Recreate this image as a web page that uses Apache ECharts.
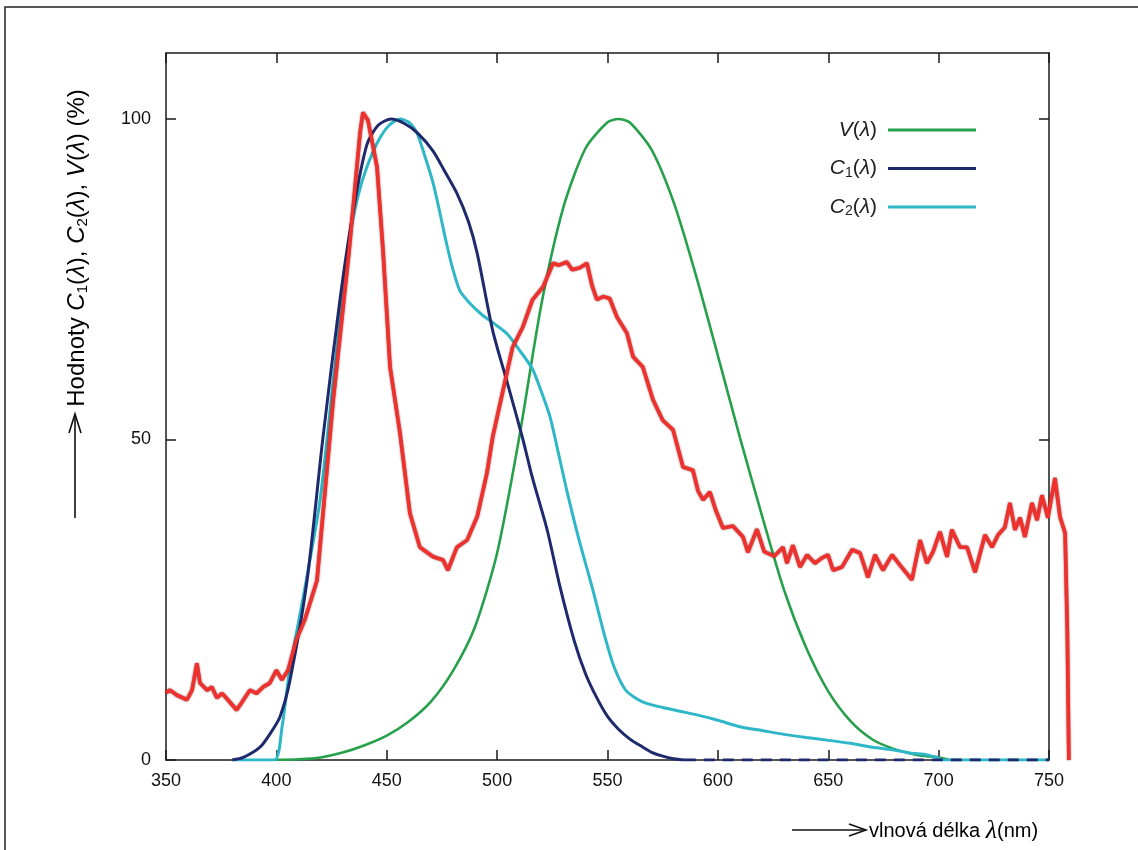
<!DOCTYPE html>
<html><head><meta charset="utf-8">
<script src="https://cdn.jsdelivr.net/npm/echarts@6/dist/echarts.min.js"></script>
<style>html,body{margin:0;padding:0;background:#fff}#c{width:1138px;height:850px}</style>
</head><body><div id="c"></div>
<script>
// ---- data ----
const xTickValues = [350, 400, 450, 500, 550, 600, 650, 700, 750];
const yTickValues = [0, 50, 100];

// V(lambda) – green
const vX = [400,410,420,430,440,450,460,470,480,490,500,510,520,530,540,550,555,560,570,580,590,600,610,620,630,640,650,660,670,680,690,700,705];
const vY = [0.04,0.12,0.4,1.16,2.3,3.8,6,9.1,13.9,20.8,32.3,50.3,71,86.2,95.4,99.5,100,99.5,95.2,87,75.7,63.1,50.3,38.1,26.5,17.5,10.7,6.1,3.2,1.7,0.8,0.4,0];

// C1(lambda) – navy
const c1X = [380,385,392.6,397,401.6,406.2,413.9,421,428.8,435,441,446,452,458,464,471,476,481.8,487,491,498,504.5,511.7,516,522.6,528.5,535,540,545,550,555,560,566,570,575,580,585];
const c1Y = [0,0.4,2,4,6.7,12.5,28,50,71.8,86,96,99,100,99.3,97.8,95,92,88.4,84,79,67,59,50,44,36,27,18.5,13.5,9.8,6.8,4.8,3.3,2,1.2,0.6,0.2,0];
// C1 tail along zero (dashed in the reference)
const c1TailX = [585, 750];
const c1TailY = [0, 0];

// C2(lambda) – cyan
const c2X = [380,399,402.5,406,413,419.8,426,433,437,441,446,451,456,460,463.7,467,471,474,477,480,483,487,493,499,504.5,510,516,520,524,528,531.6,537,543,549,553,558,563,568,575,583,591,600,610,620,630,640,649.4,660,670,679,687,694.7,699,702,750];
const c2Y = [0,0,5,14,27,40.6,60,81,88,92.5,96.5,99,100,99.5,97.8,94.5,90,85.5,80.7,76.5,73.3,71.5,69.5,68,66.5,64,61,57.5,53.5,47.5,42,34.5,27,19,14.5,11,9.6,8.8,8.2,7.6,7,6.2,5.2,4.6,4,3.5,3.1,2.6,2,1.6,1.1,0.8,0.4,0,0];

// measured spectrum – red
const redX = [350,351.8,355,359.5,361.8,364,365.4,368.6,370.8,373,375.4,378,382,384.4,388,391,394,397,400,402.5,405.3,409,413,418.4,425.7,433,437.9,439.2,441.5,445.6,448.3,451.5,456,460.5,465,471,475.5,477.7,481.8,486.4,491,495.4,498,502.7,507,511.7,516,520.8,525.3,528,531.6,534,537.5,540.7,543,545.2,548,551,554.3,558.8,561.6,566,570.6,575,579.7,584.2,588.7,591,593.3,596.4,599,602.3,606.8,611.4,613.6,617.7,621,625.5,629.5,631.3,634,637.2,640.4,644,647,649.9,652.2,656.2,660.8,664.4,668,671.2,674.8,678.9,682.5,687.9,691.6,694.7,697.5,700.6,703.8,706,709.7,712.9,716.5,721,724.2,726.9,730,732.3,734.6,736.9,739.1,742.3,744.6,746.8,749.5,752.7,755,757.3,758.3,759];
const redY = [10.5,10.9,10.1,9.4,10.9,15.1,12,10.9,11.4,9.7,10.4,9.4,7.8,9,10.9,10.4,11.4,12,14,12.5,14,18.7,22,28,56,79.6,97.8,101,99.8,92.5,79.6,61.3,51,38.5,33.2,31.7,31.2,29.6,33.2,34.3,38,44.8,50.4,57.7,64.4,67.6,71.8,73.8,77.5,77.2,77.7,76.5,76.8,77.5,74,71.8,72.3,72,69.1,66.6,62.9,61.3,56.2,53,51.5,45.7,45.2,42,40.6,41.8,39,36.2,36.5,34.8,32.4,36,32.5,31.8,33.2,30.7,33.5,30.1,32,30.7,31.5,32,29.6,30.1,32.8,32.3,28.5,32,29.6,32,30.4,28.1,34.3,30.7,32.5,35.6,31.7,35.9,33.2,33.2,29.3,35.1,33.2,35.1,36.3,40.1,35.9,37.8,34.8,40.1,37.4,41.3,37.8,44,37.9,35.4,20,0];

const seriesNames = ['V(λ)', 'C1(λ)', 'C2(λ)'];

// ---- styling ----
const GREEN = '#27a04c', NAVY = '#1e2a6d', CYAN = '#2db7c7', RED = '#f0302c';
const AX = '#1a1a1a';
const pairs = (xs, ys) => xs.map((x, i) => [x, ys[i]]);

// plot box geometry
const G = {left: 166, top: 53, bottom: 90, width: 883};
const X0 = 350, X1 = 750, XR = 765;           // XR: extended range for the spectrum, which runs past 750
const pxPerNm = G.width / (X1 - X0);

const legendFmt = {
  'V(λ)': '{i|V}{n|(}{i|λ}{n|)}',
  'C1(λ)': '{i|C}{s|1}{n|(}{i|λ}{n|)}',
  'C2(λ)': '{i|C}{s|2}{n|(}{i|λ}{n|)}'
};
const SANS = 'Liberation Sans';
const tickFont = {fontFamily: SANS, fontSize: 18, color: '#111'};
const axisCommon = {
  axisLine: {show: true, onZero: false, lineStyle: {color: AX, width: 1.5}},
  axisTick: {inside: true, length: 10, lineStyle: {color: AX, width: 1.5}},
  splitLine: {show: false}
};

const chart = echarts.init(document.getElementById('c'), null, {renderer: 'canvas'});
chart.setOption({
  animation: false,
  backgroundColor: '#fff',
  grid: [
    {left: G.left, right: 1138 - G.left - G.width, top: G.top, bottom: G.bottom},
    {left: G.left, right: 1138 - G.left - (XR - X0) * pxPerNm, top: G.top, bottom: G.bottom}
  ],
  legend: {
    data: seriesNames,
    orient: 'vertical',
    right: 157, top: 113,
    align: 'right',
    icon: 'rect',
    itemWidth: 88, itemHeight: 3,
    itemGap: 14.5,
    formatter: n => legendFmt[n],
    textStyle: {lineHeight: 24, padding: [0, 6, 0, 0], rich: {
      n: {fontFamily: SANS, fontSize: 21, color: '#222'},
      i: {fontFamily: SANS, fontSize: 21, fontStyle: 'italic', color: '#222'},
      s: {fontFamily: SANS, fontSize: 14, color: '#222', padding: [9, 0, 0, 0]}
    }}
  },
  xAxis: [
    Object.assign({type: 'value', gridIndex: 0, min: X0, max: X1, interval: 50,
      axisLabel: Object.assign({margin: 12, customValues: xTickValues}, tickFont)}, axisCommon),
    Object.assign({type: 'value', gridIndex: 0, position: 'top', min: X0, max: X1, interval: 50,
      axisLabel: {show: false}}, axisCommon),
    {type: 'value', gridIndex: 1, min: X0, max: XR, show: false}
  ],
  yAxis: [
    Object.assign({type: 'value', gridIndex: 0, min: 0, max: 110.3,
      axisLabel: Object.assign({margin: 15, customValues: yTickValues}, tickFont)}, axisCommon,
      {axisTick: {inside: true, length: 10, customValues: yTickValues, lineStyle: {color: AX, width: 1.5}}}),
    Object.assign({type: 'value', gridIndex: 0, min: 0, max: 110.3, position: 'right',
      axisLabel: {show: false}}, axisCommon,
      {axisTick: {inside: true, length: 10, customValues: yTickValues, lineStyle: {color: AX, width: 1.5}}}),
    {type: 'value', gridIndex: 1, min: 0, max: 110.3, show: false}
  ],
  series: [
    {name: 'V(λ)', type: 'line', data: pairs(vX, vY), showSymbol: false, color: GREEN,
     smooth: 0.25, lineStyle: {color: GREEN, width: 2.6}, z: 2},
    {name: 'C2(λ)', type: 'line', data: pairs(c2X, c2Y), showSymbol: false, color: CYAN,
     smooth: 0.25, lineStyle: {color: CYAN, width: 3}, z: 3},
    {name: 'C1(λ)', type: 'line', data: pairs(c1X, c1Y), showSymbol: false, color: NAVY,
     smooth: 0.25, lineStyle: {color: NAVY, width: 3}, z: 4},
    {name: 'C1 tail', type: 'line', data: pairs(c1TailX, c1TailY), showSymbol: false, color: NAVY,
     lineStyle: {color: NAVY, width: 3, type: [11, 8]}, z: 4},
    {name: 'spektrum', type: 'line', xAxisIndex: 2, yAxisIndex: 2, data: pairs(redX, redY),
     showSymbol: false, color: RED,
     lineStyle: {color: RED, width: 3.6, shadowColor: 'rgba(90,0,0,0.75)', shadowBlur: 2}, z: 5}
  ],
  graphic: [
    {type: 'polyline', silent: true, shape: {points: [[5, 860], [5, 7], [1150, 7]]},
     style: {stroke: '#222', lineWidth: 1.5, fill: null}},
    // y axis title + arrow
    {type: 'text', x: 77, y: 248, rotation: Math.PI / 2,
     style: {
       text: '{n|Hodnoty }{i|C}{s|1}{n|(}{i|λ}{n|), }{i|C}{s|2}{n|(}{i|λ}{n|), }{i|V}{n|(}{i|λ}{n|) (%)}',
       align: 'center', verticalAlign: 'middle',
       rich: {
         n: {fontFamily: SANS, fontSize: 24, color: '#222'},
         i: {fontFamily: SANS, fontSize: 24, fontStyle: 'italic', color: '#222'},
         s: {fontFamily: SANS, fontSize: 15, color: '#222', padding: [11, 0, 0, 0]}
       }
     }},
    {type: 'polyline', silent: true, shape: {points: [[75, 518], [75, 415]]},
     style: {stroke: '#111', lineWidth: 1.6, fill: null}},
    {type: 'polyline', silent: true, shape: {points: [[69, 433], [75, 414], [81, 433]]},
     style: {stroke: '#111', lineWidth: 1.6, fill: null}},
    // x axis title + arrow
    {type: 'polyline', silent: true, shape: {points: [[792, 830], [864, 830]]},
     style: {stroke: '#111', lineWidth: 1.6, fill: null}},
    {type: 'polyline', silent: true, shape: {points: [[849, 824], [866, 830], [849, 836]]},
     style: {stroke: '#111', lineWidth: 1.6, fill: null}},
    {type: 'text', x: 869, y: 831,
     style: {
       text: '{n|vlnová délka }{l|λ}{n|(nm)}',
       align: 'left', verticalAlign: 'middle',
       rich: {
         n: {fontFamily: SANS, fontSize: 20, color: '#111'},
         l: {fontFamily: 'Liberation Serif', fontSize: 26, fontStyle: 'italic', color: '#111'}
       }
     }}
  ]
});
</script>
</body></html>
